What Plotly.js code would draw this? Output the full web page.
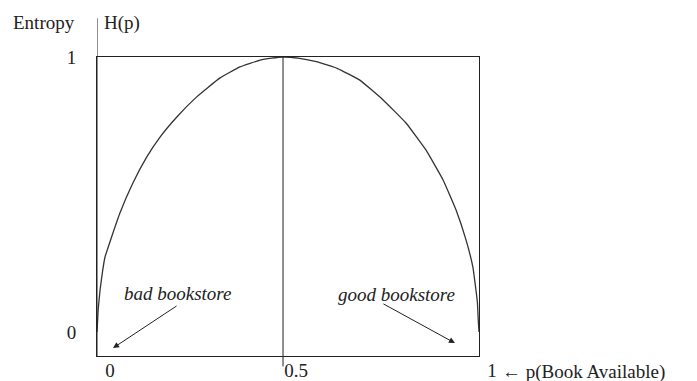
<!DOCTYPE html>
<html>
<head>
<meta charset="utf-8">
<script src="https://cdn.plot.ly/plotly-3.0.1.min.js"></script>
<style>
  html, body { margin: 0; padding: 0; background: #fff; }
  #plot { width: 697px; height: 381px; }
</style>
</head>
<body>
<div id="plot"></div>
<script>
// curve: p (book available) vs entropy H(p)
var pVals = [0, 0.003, 0.008, 0.015, 0.021, 0.038, 0.060, 0.094, 0.130, 0.165, 0.209, 0.261, 0.322, 0.374, 0.427, 0.457, 0.487,
             0.530, 0.574, 0.630, 0.688, 0.749, 0.809, 0.861, 0.906, 0.940, 0.966, 0.984, 0.992, 0.996, 0.998, 1.0];
var hVals = [0, 0.080, 0.153, 0.225, 0.273, 0.345, 0.433, 0.542, 0.636, 0.709, 0.782, 0.855, 0.924, 0.964, 0.989, 0.996, 1.0,
             0.995, 0.983, 0.958, 0.916, 0.844, 0.760, 0.662, 0.553, 0.444, 0.335, 0.236, 0.153, 0.105, 0.044, 0];

var xTickVals = [0, 0.487, 1];
var xTickText = ['0', '0.5', '1'];
var yTickVals = [0, 1];
var yTickText = ['0', '1'];

var midLineX = 0.487;

var serif = 'Liberation Serif, Times New Roman, serif';

function plotMe() {
    var data = [{
        x: pVals,
        y: hVals,
        type: 'scatter',
        mode: 'lines',
        line: { color: '#333333', width: 1.3, shape: 'spline', smoothing: 0.3 },
        hoverinfo: 'skip'
    }];

    var layout = {
        width: 697,
        height: 381,
        margin: { l: 97, r: 218, t: 57, b: 25 },
        paper_bgcolor: '#ffffff',
        plot_bgcolor: '#ffffff',
        showlegend: false,
        font: { family: serif, size: 19, color: '#222222' },
        xaxis: {
            range: [0, 1],
            showgrid: false,
            zeroline: false,
            showline: true,
            mirror: true,
            linecolor: '#222222',
            linewidth: 1,
            ticks: '',
            tickvals: xTickVals,
            ticktext: xTickText,
            ticklabelshift: 13,
            ticklabelstandoff: -3
        },
        yaxis: {
            range: [-0.087, 1],
            showgrid: false,
            zeroline: false,
            showline: true,
            mirror: true,
            linecolor: '#222222',
            linewidth: 1,
            ticks: '',
            tickvals: yTickVals,
            ticktext: yTickText,
            ticklabelstandoff: 16
        },
        shapes: [
            // left axis goes on above the box
            { type: 'line', xref: 'x', yref: 'paper', x0: 0, x1: 0, y0: 0, y1: 1.13,
              line: { color: '#222222', width: 1 } },
            // vertical line at the middle
            { type: 'line', xref: 'x', yref: 'paper', x0: midLineX, x1: midLineX, y0: -0.035, y1: 1,
              line: { color: '#222222', width: 1 } }
        ],
        annotations: [
            { text: 'Entropy', xref: 'paper', yref: 'paper', x: -0.14, y: 1.115,
              xanchor: 'center', yanchor: 'middle', showarrow: false },
            { text: 'H(p)', xref: 'paper', yref: 'paper', x: 0.013, y: 1.115,
              xanchor: 'left', yanchor: 'middle', showarrow: false },
            { text: '\u2190 p(Book Available)', xref: 'paper', yref: 'paper', x: 1.055, y: -0.053,
              xanchor: 'left', yanchor: 'middle', showarrow: false },
            { text: '<i>bad bookstore</i>', xref: 'x', yref: 'y', x: 0.212, y: 0.142,
              xanchor: 'center', yanchor: 'middle', showarrow: false },
            { text: '<i>good bookstore</i>', xref: 'x', yref: 'y', x: 0.783, y: 0.135,
              xanchor: 'center', yanchor: 'middle', showarrow: false },
            // arrows
            { text: '', x: 0.042, y: -0.058, xref: 'x', yref: 'y', ax: 65, ay: -43,
              showarrow: true, arrowhead: 2, arrowsize: 1.2, arrowwidth: 1, arrowcolor: '#222222' },
            { text: '', x: 0.937, y: -0.040, xref: 'x', yref: 'y', ax: -73, ay: -40,
              showarrow: true, arrowhead: 2, arrowsize: 1.2, arrowwidth: 1, arrowcolor: '#222222' }
        ]
    };

    Plotly.newPlot('plot', data, layout, { staticPlot: true });
}

plotMe();
</script>
</body>
</html>
